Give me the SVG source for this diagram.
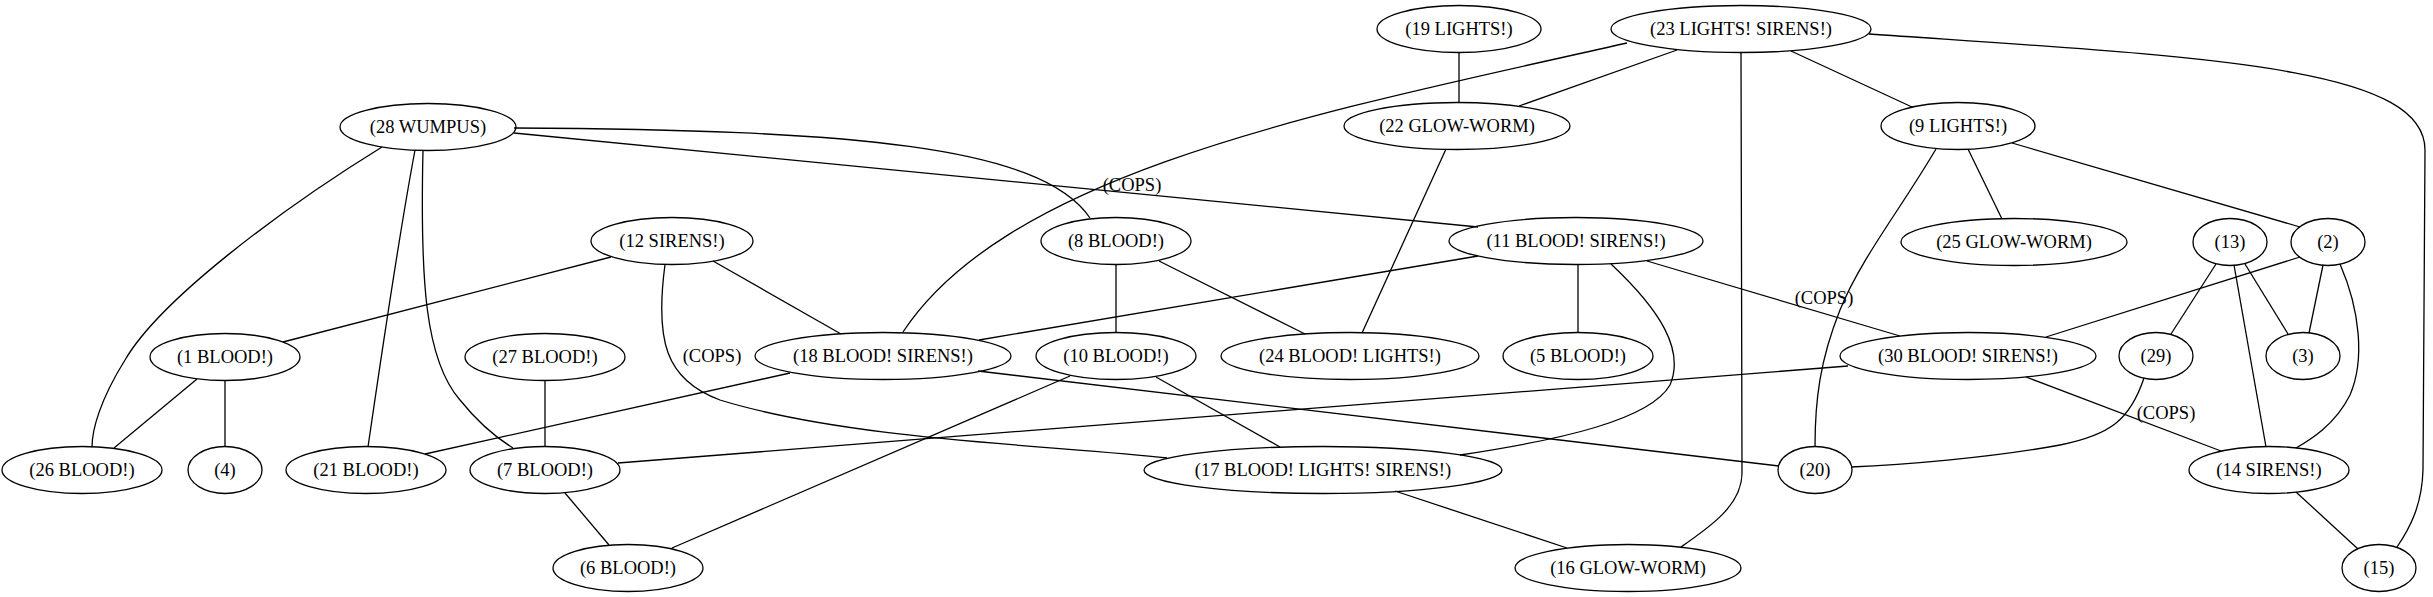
<svg xmlns="http://www.w3.org/2000/svg" width="2433" height="597" viewBox="0 0 2433 597">
<style>
.n ellipse{fill:none;stroke:#000;stroke-width:1.3}
text{font-family:"Liberation Serif","Times New Roman",serif;font-size:18.5px;text-anchor:middle;fill:#000}
#edges path{fill:none;stroke:#000;stroke-width:1.3}
</style>
<rect width="2433" height="597" fill="#fff"/>
<g id="edges">
<path d="M1459,52.5 L1459,102.5"/>
<path d="M1677,50 L1519,106"/>
<path d="M1791,51 L1912,107"/>
<path d="M1627,43 C1330,110 1010,170 903,332"/>
<path d="M1741,52.5 L1742,473 C1742,505 1710,527 1681,547"/>
<path d="M1869,34 C2200,57 2425,65 2425,150 L2423,470 C2422,505 2410,528 2397,547"/>
<path d="M1446,149 L1362,333"/>
<path d="M514,128 C850,130 1040,145 1090,218"/>
<path d="M514,133 L1478,227"/>
<path d="M382,147 C280,210 160,300 125,360 C100,400 92,430 92,447"/>
<path d="M415,150 C400,230 385,330 368,447"/>
<path d="M423,150 C420,280 425,360 460,400 C480,425 500,440 513,448"/>
<path d="M611,257 L283,342"/>
<path d="M713,261 L841,334"/>
<path d="M665,264.5 C655,340 665,380 720,400 C850,440 1050,445 1167,458"/>
<path d="M1116,264.5 L1116,332.5"/>
<path d="M1159,261 L1305,334"/>
<path d="M1478,256 L979,340"/>
<path d="M1578,264.5 L1578,332.5"/>
<path d="M1611,264 C1660,310 1685,350 1670,385 C1650,420 1560,440 1460,455"/>
<path d="M1647,261 L1900,336"/>
<path d="M1968,149 L2002,219"/>
<path d="M2012,143 L2300,227"/>
<path d="M1936,149 C1900,210 1860,260 1840,310 C1820,360 1815,400 1815,446.5"/>
<path d="M2216,264 L2171,334"/>
<path d="M2245,264 L2288,334"/>
<path d="M2234,265 L2266,447"/>
<path d="M2300,257 L2046,337"/>
<path d="M2323,265 L2309,333"/>
<path d="M2340,264 C2360,310 2365,360 2350,395 C2335,425 2310,440 2296,448"/>
<path d="M197,379 L114,448"/>
<path d="M225,380.5 L225,446.5"/>
<path d="M545,380.5 L545,446.5"/>
<path d="M790,373 L425,454"/>
<path d="M978,371 L1779,466"/>
<path d="M1070,376 L672,548"/>
<path d="M1156,377 L1280,447"/>
<path d="M1848,366 L618,463"/>
<path d="M2026,377 L2221,451"/>
<path d="M2144,378 C2130,420 2110,435 2060,445 C1990,458 1900,465 1851,467"/>
<path d="M2296,492 L2358,549"/>
<path d="M565,493 L609,545"/>
<path d="M1395,491 L1567,548"/>
<text x="1132" y="191">(COPS)</text>
<text x="712" y="362">(COPS)</text>
<text x="1824" y="304">(COPS)</text>
<text x="2166" y="419">(COPS)</text>
</g>
<g id="n19" class="n"><ellipse cx="1459" cy="29" rx="82" ry="23.5"/><text x="1459" y="35">(19 LIGHTS!)</text></g>
<g id="n23" class="n"><ellipse cx="1741" cy="29" rx="130" ry="23.5"/><text x="1741" y="35">(23 LIGHTS! SIRENS!)</text></g>
<g id="n28" class="n"><ellipse cx="428" cy="127" rx="88" ry="23.5"/><text x="428" y="133">(28 WUMPUS)</text></g>
<g id="n22" class="n"><ellipse cx="1457" cy="126" rx="113" ry="23.5"/><text x="1457" y="132">(22 GLOW-WORM)</text></g>
<g id="n9" class="n"><ellipse cx="1958" cy="126" rx="77" ry="23.5"/><text x="1958" y="132">(9 LIGHTS!)</text></g>
<g id="n12" class="n"><ellipse cx="672" cy="241" rx="81" ry="23.5"/><text x="672" y="247">(12 SIRENS!)</text></g>
<g id="n8" class="n"><ellipse cx="1116" cy="241" rx="75" ry="23.5"/><text x="1116" y="247">(8 BLOOD!)</text></g>
<g id="n11" class="n"><ellipse cx="1576" cy="241" rx="127" ry="23.5"/><text x="1576" y="247">(11 BLOOD! SIRENS!)</text></g>
<g id="n25" class="n"><ellipse cx="2014" cy="242" rx="113" ry="23.5"/><text x="2014" y="248">(25 GLOW-WORM)</text></g>
<g id="n13" class="n"><ellipse cx="2230" cy="242" rx="37" ry="23.5"/><text x="2230" y="248">(13)</text></g>
<g id="n2" class="n"><ellipse cx="2328" cy="242" rx="37" ry="23.5"/><text x="2328" y="248">(2)</text></g>
<g id="n1" class="n"><ellipse cx="225" cy="357" rx="75" ry="23.5"/><text x="225" y="363">(1 BLOOD!)</text></g>
<g id="n27" class="n"><ellipse cx="545" cy="357" rx="80" ry="23.5"/><text x="545" y="363">(27 BLOOD!)</text></g>
<g id="n18" class="n"><ellipse cx="883" cy="356" rx="128" ry="23.5"/><text x="883" y="362">(18 BLOOD! SIRENS!)</text></g>
<g id="n10" class="n"><ellipse cx="1116" cy="356" rx="80" ry="23.5"/><text x="1116" y="362">(10 BLOOD!)</text></g>
<g id="n24" class="n"><ellipse cx="1350" cy="356" rx="129" ry="23.5"/><text x="1350" y="362">(24 BLOOD! LIGHTS!)</text></g>
<g id="n5" class="n"><ellipse cx="1578" cy="356" rx="75" ry="23.5"/><text x="1578" y="362">(5 BLOOD!)</text></g>
<g id="n30" class="n"><ellipse cx="1968" cy="356" rx="128" ry="23.5"/><text x="1968" y="362">(30 BLOOD! SIRENS!)</text></g>
<g id="n29" class="n"><ellipse cx="2156" cy="356" rx="37" ry="23.5"/><text x="2156" y="362">(29)</text></g>
<g id="n3" class="n"><ellipse cx="2303" cy="356" rx="37" ry="23.5"/><text x="2303" y="362">(3)</text></g>
<g id="n26" class="n"><ellipse cx="82" cy="470" rx="80" ry="23.5"/><text x="82" y="476">(26 BLOOD!)</text></g>
<g id="n4" class="n"><ellipse cx="225" cy="470" rx="37" ry="23.5"/><text x="225" y="476">(4)</text></g>
<g id="n21" class="n"><ellipse cx="366" cy="470" rx="80" ry="23.5"/><text x="366" y="476">(21 BLOOD!)</text></g>
<g id="n7" class="n"><ellipse cx="545" cy="470" rx="75" ry="23.5"/><text x="545" y="476">(7 BLOOD!)</text></g>
<g id="n17" class="n"><ellipse cx="1323" cy="470" rx="179" ry="23.5"/><text x="1323" y="476">(17 BLOOD! LIGHTS! SIRENS!)</text></g>
<g id="n20" class="n"><ellipse cx="1815" cy="470" rx="37" ry="23.5"/><text x="1815" y="476">(20)</text></g>
<g id="n14" class="n"><ellipse cx="2269" cy="470" rx="80" ry="23.5"/><text x="2269" y="476">(14 SIRENS!)</text></g>
<g id="n6" class="n"><ellipse cx="628" cy="568" rx="75" ry="23.5"/><text x="628" y="574">(6 BLOOD!)</text></g>
<g id="n16" class="n"><ellipse cx="1628" cy="568" rx="113" ry="23.5"/><text x="1628" y="574">(16 GLOW-WORM)</text></g>
<g id="n15" class="n"><ellipse cx="2379" cy="568" rx="37" ry="23.5"/><text x="2379" y="574">(15)</text></g>
</svg>
